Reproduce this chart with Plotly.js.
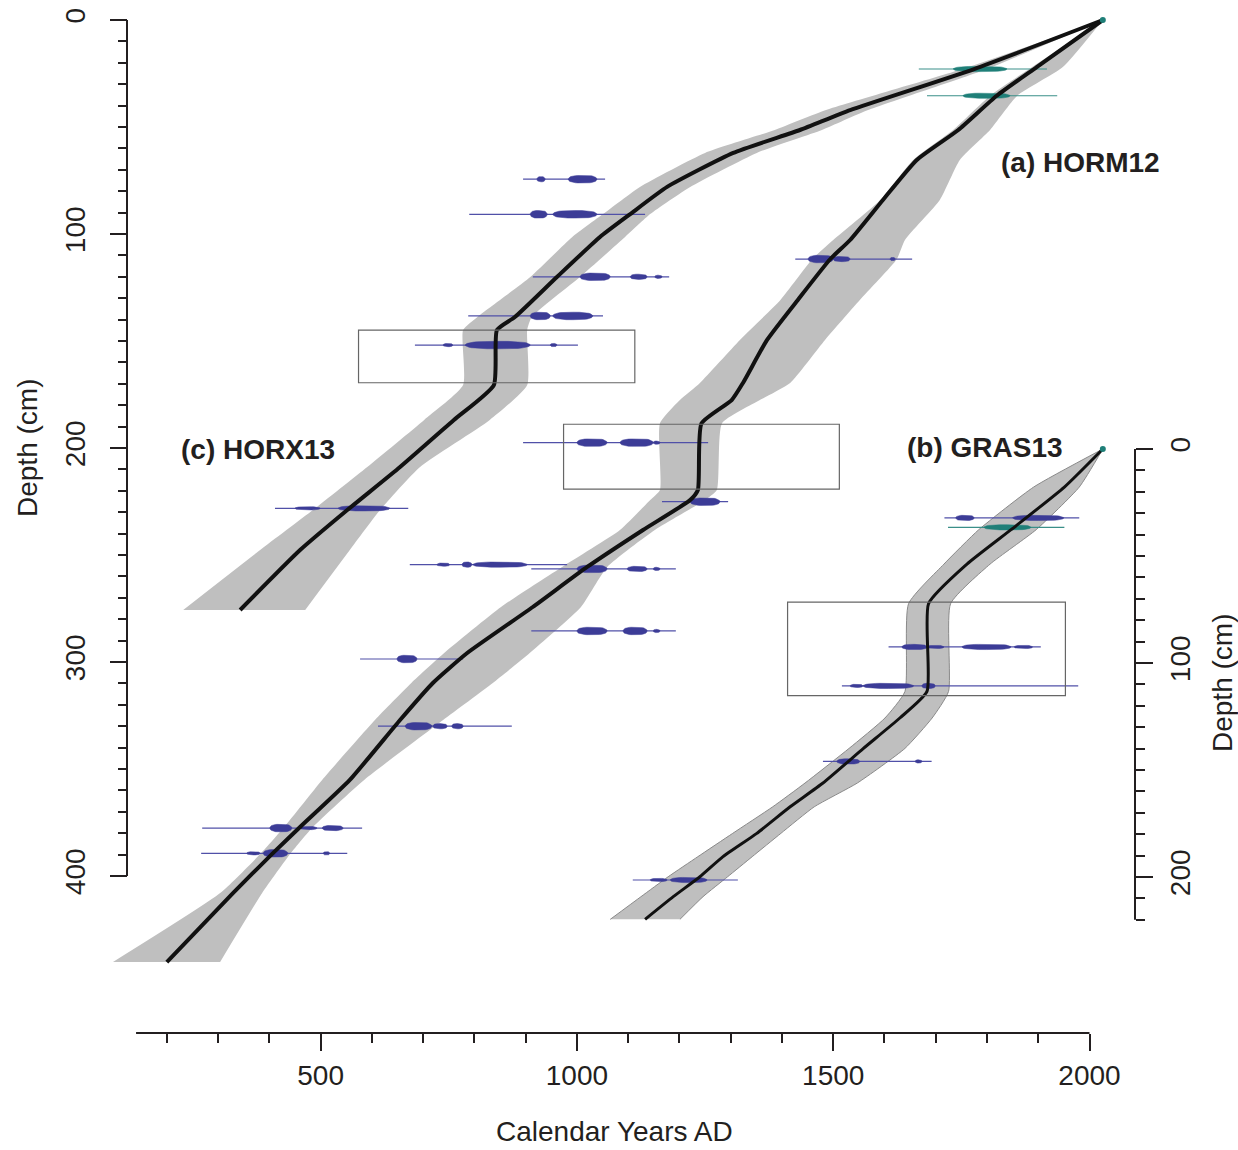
<!DOCTYPE html>
<html><head><meta charset="utf-8">
<script src="https://cdn.plot.ly/plotly-3.0.1.min.js"></script>
<style>html,body{margin:0;padding:0;background:#fff}#chart{width:1238px;height:1150px}</style>
</head><body><div id="chart"></div>
<script>
// ---------- (c) HORX13 age-depth model (left depth axis) ----------
const horx13Depth = [0, 22.9, 42.1, 51.4, 62.1, 78.0, 90.7, 101.4, 120.1, 138.8, 144.9, 170.6, 186.9, 208.9, 229.0, 247.7, 275.7];
const horx13Age   = [2026, 1775, 1533, 1435, 1305, 1176, 1104, 1045, 961, 879, 844, 838, 760, 655, 552, 460, 343];
const horx13Min   = [2026, 1752, 1486, 1386, 1250, 1123, 1051, 991, 909, 806, 778, 778, 702, 591, 485, 382, 232];
const horx13Max   = [2026, 1800, 1568, 1478, 1351, 1221, 1143, 1094, 1006, 912, 903, 903, 830, 694, 616, 557, 470];

// ---------- (a) HORM12 age-depth model (left depth axis) ----------
const horm12Depth = [0, 22.0, 35.4, 51.4, 65.4, 84.1, 102.8, 111.8, 130.8, 149.5, 169.6, 177.6, 188.5, 219.6, 224.3, 238.3, 255.6, 274.3, 295.8, 309.8, 327.1, 355.1, 377.1, 389.3, 408.0, 440.2];
const horm12Age   = [2026, 1897, 1819, 1744, 1663, 1597, 1533, 1494, 1431, 1371, 1324, 1302, 1243, 1236, 1221, 1129, 1020, 914, 786, 719, 655, 557, 460, 407, 329, 200];
const horm12Min   = [2026, 1888, 1806, 1734, 1656, 1592, 1500, 1459, 1397, 1318, 1240, 1201, 1162, 1162, 1143, 1084, 971, 852, 741, 677, 606, 503, 429, 384, 304, 95];
const horm12Max   = [2026, 1948, 1859, 1806, 1747, 1708, 1640, 1624, 1552, 1484, 1416, 1357, 1283, 1273, 1250, 1152, 1059, 1008, 908, 836, 739, 585, 485, 442, 386, 304];

// ---------- (b) GRAS13 age-depth model (right depth axis) ----------
const gras13Depth = [0, 17.8, 37.7, 53.8, 72.3, 113.3, 125.7, 139.9, 156.1, 167.2, 179.6, 190.5, 199.9, 209.2, 219.8];
const gras13Age   = [2026, 1951, 1847, 1761, 1686, 1683, 1630, 1559, 1480, 1416, 1351, 1285, 1240, 1188, 1133];
const gras13Min   = [2026, 1891, 1784, 1716, 1647, 1640, 1601, 1531, 1445, 1382, 1304, 1236, 1178, 1125, 1065];
const gras13Max   = [2026, 1980, 1896, 1806, 1729, 1725, 1693, 1640, 1547, 1463, 1398, 1342, 1294, 1246, 1201];

// ---------- calibrated 14C dates: depth, full range, probability blobs [from, to, density 1-3] ----------
const horx13DateDepth = [74.4, 90.8, 120.0, 138.3, 151.9, 228.2];
const horx13DateFrom  = [895, 790, 914, 788, 684, 411];
const horx13DateTo    = [1055, 1133, 1180, 1051, 1002, 671];
const horx13DateBlobs = [
  [[922, 938, 2], [983, 1039, 3]],
  [[909, 942, 3], [953, 1039, 3]],
  [[1006, 1065, 3], [1104, 1137, 2], [1152, 1166, 1]],
  [[909, 948, 3], [953, 1031, 3]],
  [[739, 758, 1], [782, 909, 3], [948, 961, 1]],
  [[450, 499, 1], [534, 635, 2]]
];
const horm12DateDepth = [111.7, 197.5, 225.1, 254.5, 256.5, 285.5, 298.6, 330.0, 377.6, 389.4];
const horm12DateFrom  = [1426, 895, 1166, 674, 911, 911, 577, 612, 269, 267];
const horm12DateTo    = [1654, 1256, 1295, 981, 1193, 1193, 778, 873, 581, 552];
const horm12DateBlobs = [
  [[1451, 1500, 3], [1500, 1533, 2], [1611, 1621, 1]],
  [[1000, 1059, 3], [1084, 1149, 3], [1149, 1162, 1]],
  [[1221, 1279, 3]],
  [[727, 752, 1], [776, 795, 2], [797, 903, 2]],
  [[1000, 1059, 3], [1098, 1137, 2], [1149, 1162, 1]],
  [[1000, 1059, 3], [1090, 1137, 3], [1149, 1162, 1]],
  [[649, 688, 3]],
  [[665, 717, 3], [719, 747, 2], [756, 778, 2]],
  [[401, 444, 3], [460, 493, 1], [503, 544, 2]],
  [[356, 382, 1], [388, 436, 3], [505, 518, 1]]
];
const gras13DateDepth = [32.2, 92.5, 110.7, 146.0, 201.4];
const gras13DateFrom  = [1717, 1608, 1517, 1480, 1109];
const gras13DateTo    = [1980, 1905, 1978, 1692, 1314];
const gras13DateBlobs = [
  [[1739, 1775, 2], [1850, 1950, 2]],
  [[1634, 1683, 2], [1683, 1716, 1], [1751, 1847, 2], [1853, 1889, 1]],
  [[1533, 1558, 1], [1558, 1657, 2], [1673, 1699, 2]],
  [[1507, 1552, 2], [1660, 1673, 1]],
  [[1143, 1176, 1], [1182, 1254, 2]]
];

// ---------- 210Pb / 137Cs dated levels (teal) ----------
const horx13PbDepth = [22.9];  const horx13PbFrom = [1667]; const horx13PbTo = [1917]; const horx13PbBlobs = [[[1734, 1839, 2]]];
const horm12PbDepth = [35.4];  const horm12PbFrom = [1683]; const horm12PbTo = [1937]; const horm12PbBlobs = [[[1753, 1845, 2]]];
const gras13PbDepth = [36.6];  const gras13PbFrom = [1724]; const gras13PbTo = [1951]; const gras13PbBlobs = [[[1794, 1886, 2]]];

// surface (coring year)
const surfaceAge = [2026];
const surfaceDepth = [0];

// ---------- highlighted intervals (rectangles) ----------
const boxAgeFrom   = [574, 974, 1411];
const boxAgeTo     = [1113, 1512, 1953];
const boxDepthFrom = [144.9, 188.9, 71.6];
const boxDepthTo   = [169.5, 219.2, 115.2];
const boxAxis      = ['y', 'y', 'y2'];

// ---------- axes ticks ----------
const xMajor = [500, 1000, 1500, 2000];
const xMinor = [200, 300, 400, 600, 700, 800, 900, 1100, 1200, 1300, 1400, 1600, 1700, 1800, 1900];
const yMajor = [0, 100, 200, 300, 400];
const y2Major = [0, 100, 200];

// ================= drawing =================
const W = 1238, H = 1150;
const xRange = [-125.44, 2289.7];
const yRange = [528.04, -9.346];
const y2Range = [327.57, -209.81];
const cmPerPx = (yRange[0] - yRange[1]) / H;
const FONT = 'Liberation Sans, Arial, sans-serif';
const INK = '#231f20';
const BAND = '#bfbfbf';
const BLUE = '#3c3c97';
const BLUE_THIN = '#5050a8';
const TEAL = '#1f7f78';
const SMOOTH = 0.5;

const traces = [];

function band(depth, mn, mx, axis, outline) {
  const ln = {color: outline || BAND, width: outline ? 1 : 0, shape: 'spline', smoothing: SMOOTH};
  traces.push({x: mn, y: depth, yaxis: axis, mode: 'lines', line: ln, hoverinfo: 'skip'});
  traces.push({x: mx, y: depth, yaxis: axis, mode: 'lines', fill: 'tonextx', fillcolor: BAND, line: ln, hoverinfo: 'skip'});
}
function dates(depth, from, to, blobs, axis, color, thinColor) {
  const xs = [], ys = [];
  depth.forEach((d, i) => { xs.push(from[i], to[i], null); ys.push(d, d, null); });
  traces.push({x: xs, y: ys, yaxis: axis, mode: 'lines', line: {color: thinColor, width: 1.2}, hoverinfo: 'skip'});
  const hPx = {1: 3.2, 2: 5.2, 3: 7.5};
  depth.forEach((d, i) => {
    blobs[i].forEach(b => {
      const cx = (b[0] + b[1]) / 2, rx = Math.max((b[1] - b[0]) / 2, 3);
      const ry = hPx[b[2]] / 2 * cmPerPx;
      const px = [], py = [];
      for (let k = 0; k <= 40; k++) {
        const t = 2 * Math.PI * k / 40, c = Math.cos(t), s = Math.sin(t);
        px.push(cx + rx * Math.sign(c) * Math.pow(Math.abs(c), 0.6));
        py.push(d + ry * s);
      }
      traces.push({x: px, y: py, yaxis: axis, mode: 'lines', fill: 'toself', fillcolor: color,
        line: {color: color, width: 0.5}, hoverinfo: 'skip'});
    });
  });
}
function model(depth, age, axis, w) {
  traces.push({x: age, y: depth, yaxis: axis, mode: 'lines',
    line: {color: '#111', width: w, shape: 'spline', smoothing: SMOOTH}, hoverinfo: 'skip'});
}

band(horx13Depth, horx13Min, horx13Max, 'y');
band(horm12Depth, horm12Min, horm12Max, 'y');
band(gras13Depth, gras13Min, gras13Max, 'y2', '#8a8a8a');

dates(horx13DateDepth, horx13DateFrom, horx13DateTo, horx13DateBlobs, 'y', BLUE, BLUE_THIN);
dates(horm12DateDepth, horm12DateFrom, horm12DateTo, horm12DateBlobs, 'y', BLUE, BLUE_THIN);
dates(gras13DateDepth, gras13DateFrom, gras13DateTo, gras13DateBlobs, 'y2', BLUE, BLUE_THIN);
dates(horx13PbDepth, horx13PbFrom, horx13PbTo, horx13PbBlobs, 'y', TEAL, '#3a8f89');
dates(horm12PbDepth, horm12PbFrom, horm12PbTo, horm12PbBlobs, 'y', TEAL, '#3a8f89');
dates(gras13PbDepth, gras13PbFrom, gras13PbTo, gras13PbBlobs, 'y2', TEAL, '#3a8f89');

model(horx13Depth, horx13Age, 'y', 4);
model(horm12Depth, horm12Age, 'y', 4);
model(gras13Depth, gras13Age, 'y2', 3);

traces.push({x: surfaceAge, y: surfaceDepth, yaxis: 'y', mode: 'markers', marker: {color: TEAL, size: 6}, hoverinfo: 'skip'});
traces.push({x: surfaceAge, y: surfaceDepth, yaxis: 'y2', mode: 'markers', marker: {color: TEAL, size: 6}, hoverinfo: 'skip'});

const xPos = 1 - 1033 / H, yPos = 127 / W, y2Pos = 1135 / W;

const shapes = [
  {type: 'line', xref: 'x', yref: 'paper', x0: 140, x1: xMajor[xMajor.length - 1], y0: xPos, y1: xPos, line: {color: INK, width: 2}},
  {type: 'line', xref: 'paper', yref: 'y', x0: yPos, x1: yPos, y0: yMajor[0], y1: yMajor[yMajor.length - 1], line: {color: INK, width: 2}},
  {type: 'line', xref: 'paper', yref: 'y2', x0: y2Pos, x1: y2Pos, y0: 0, y1: 220, line: {color: INK, width: 2}}
];
boxAgeFrom.forEach((a, i) => shapes.push({type: 'rect', xref: 'x', yref: boxAxis[i], x0: a, x1: boxAgeTo[i],
  y0: boxDepthFrom[i], y1: boxDepthTo[i], line: {color: '#666', width: 1.2}, fillcolor: 'rgba(0,0,0,0)', layer: 'above'}));

const tickFont = {family: FONT, size: 28, color: INK};
function range10(a, b) { const r = []; for (let v = a; v <= b; v += 10) if (v % 100 !== 0) r.push(v); return r; }
function label(text, px, py, angle) {
  return {text: text, xref: 'paper', yref: 'paper', x: px / W, y: 1 - py / H, xanchor: 'center', yanchor: 'middle',
    textangle: angle || 0, showarrow: false, font: {family: FONT, size: 28, color: INK}};
}

const layout = {
  width: W, height: H, margin: {l: 0, r: 0, t: 0, b: 0, pad: 0},
  paper_bgcolor: '#fff', plot_bgcolor: '#fff', showlegend: false,
  font: {family: FONT, color: INK},
  xaxis: {range: xRange, anchor: 'free', position: xPos, showline: false, showgrid: false, zeroline: false,
    tickmode: 'array', tickvals: xMajor, ticks: 'outside', ticklen: 17, tickwidth: 2, tickcolor: INK,
    tickfont: tickFont, ticklabelstandoff: 0,
    minor: {tickmode: 'array', tickvals: xMinor, ticks: 'outside', ticklen: 9, tickwidth: 2, tickcolor: INK, showgrid: false}},
  yaxis: {range: yRange, anchor: 'free', position: yPos, side: 'left', showline: false, showgrid: false, zeroline: false,
    tickmode: 'array', tickvals: yMajor, ticks: 'outside', ticklen: 17, tickwidth: 2, tickcolor: INK,
    tickfont: tickFont, tickangle: -90, ticklabelstandoff: 14,
    minor: {tickmode: 'array', tickvals: range10(0, 400), ticks: 'outside', ticklen: 9, tickwidth: 2, tickcolor: INK, showgrid: false}},
  yaxis2: {range: y2Range, overlaying: 'y', anchor: 'free', position: y2Pos, side: 'right', showline: false, showgrid: false, zeroline: false,
    tickmode: 'array', tickvals: y2Major, ticks: 'outside', ticklen: 17, tickwidth: 2, tickcolor: INK,
    tickfont: tickFont, tickangle: -90, ticklabelstandoff: 3,
    minor: {tickmode: 'array', tickvals: range10(0, 220), ticks: 'outside', ticklen: 9, tickwidth: 2, tickcolor: INK, showgrid: false}},
  shapes: shapes,
  annotations: [
    label('<b>(a) HORM12</b>', 1080, 163),
    label('<b>(b) GRAS13</b>', 985, 447),
    label('<b>(c) HORX13</b>', 258, 450),
    label('Depth (cm)', 27, 448, -90),
    label('Depth (cm)', 1222, 683, -90),
    label('Calendar Years AD', 614, 1131)
  ]
};

Plotly.newPlot('chart', traces, layout, {staticPlot: true, displayModeBar: false});
</script>
</body></html>
